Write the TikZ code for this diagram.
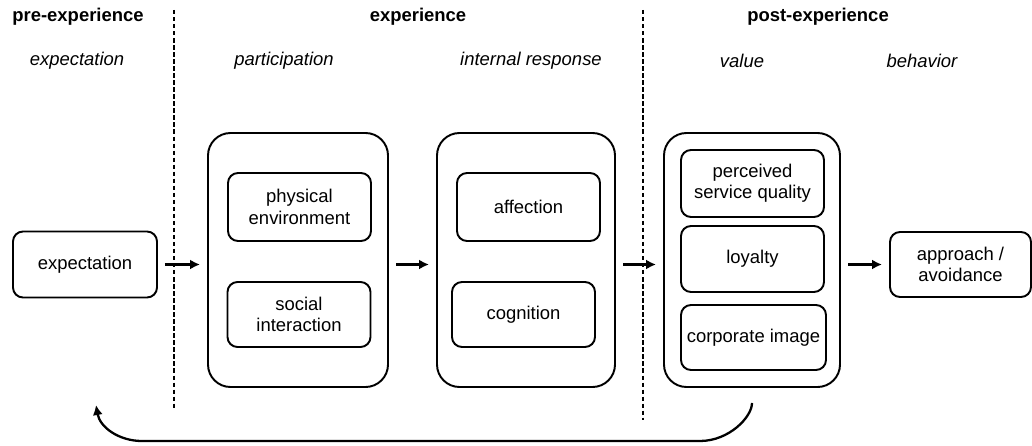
\documentclass[tikz,border=0pt]{standalone}
\usepackage{fontspec}
\setmainfont{Liberation Sans}
\usetikzlibrary{arrows.meta}
\begin{document}
\begin{tikzpicture}[
	font=\fontsize{10.5}{12.2}\selectfont,
	>={Latex[length=2mm, width=2mm]},
	head/.style={font=\fontsize{10.5}{12.2}\selectfont\bfseries},
	phase/.style={font=\fontsize{10.5}{12.2}\selectfont\itshape},
	item/.style={draw, line width=1.1pt, rounded corners=0.2cm, align=center, inner sep=1pt, minimum width=2.86cm, minimum height=1.32cm},
	group/.style={draw, line width=1.1pt, rounded corners=0.45cm, minimum width=3.56cm, minimum height=5.08cm},
	flow/.style={->, line width=1.3pt, shorten <=4pt, shorten >=4pt},
	divider/.style={line width=0.7pt, dash pattern=on 2.5pt off 1.5pt}]
	\useasboundingbox (0,0) rectangle (20.64,-8.92);

	% stage titles
	\node[head] at (1.56,-0.34) (pre) {pre-experience};
	\node[head] at (8.36,-0.34) (exp) {experience};
	\node[head] at (16.36,-0.34) (post) {post-experience};

	\node[phase] at (1.54,-1.22) (pexpect) {expectation};
	\node[phase] at (5.68,-1.22) (ppartic) {participation};
	\node[phase] at (10.62,-1.22) (presp) {internal response};
	\node[phase] at (14.84,-1.22) (pvalue) {value};
	\node[phase] at (18.44,-1.22) (pbehav) {behavior};

	% stage borders
	\draw[divider] (3.48,-0.2) -- (3.48,-8.2);
	\draw[divider] (12.86,-0.2) -- (12.86,-8.4);

	% boxes
	\node[item, minimum width=2.88cm] at (1.7,-5.29) (expect) {expectation};

	\node[group, minimum width=3.6cm] at (5.96,-5.2) (partic) {};
	\node[item, minimum height=1.36cm] at (5.99,-4.14) (phys) {physical\\environment};
	\node[item, minimum height=1.3cm] at (5.98,-6.29) (social) {social\\interaction};

	\node[group] at (10.52,-5.2) (resp) {};
	\node[item, minimum height=1.36cm] at (10.57,-4.14) (affect) {affection};
	\node[item, minimum height=1.3cm] at (10.47,-6.29) (cogn) {cognition};

	\node[group, minimum width=3.52cm] at (15.04,-5.2) (value) {};
	\node[item, minimum height=1.34cm] at (15.05,-3.67) (quality) {perceived\\service quality};
	\node[item] at (15.05,-5.18) (loyal) {loyalty};
	\node[item, minimum width=2.9cm, minimum height=1.3cm] at (15.07,-6.75) (image) {corporate image};

	\node[item, minimum width=2.82cm, minimum height=1.3cm] at (19.21,-5.29) (approach) {approach /\\avoidance};

	% flow
	\draw[flow] (expect.east) -- (partic.west |- expect.east);
	\draw[flow] (partic.east |- expect.east) -- (resp.west |- expect.east);
	\draw[flow] (resp.east |- expect.east) -- (value.west |- expect.east);
	\draw[flow] (value.east |- expect.east) -- (approach.west);

	% feedback
	\coordinate (fbend) at (1.92,-8.1);
	\draw[->, line width=1.3pt, shorten <=0.3cm] (value.south) to[out=-90, in=0] (14.0,-8.82) -- (2.84,-8.82) to[out=180, in=-80] (fbend);
\end{tikzpicture}
\end{document}
